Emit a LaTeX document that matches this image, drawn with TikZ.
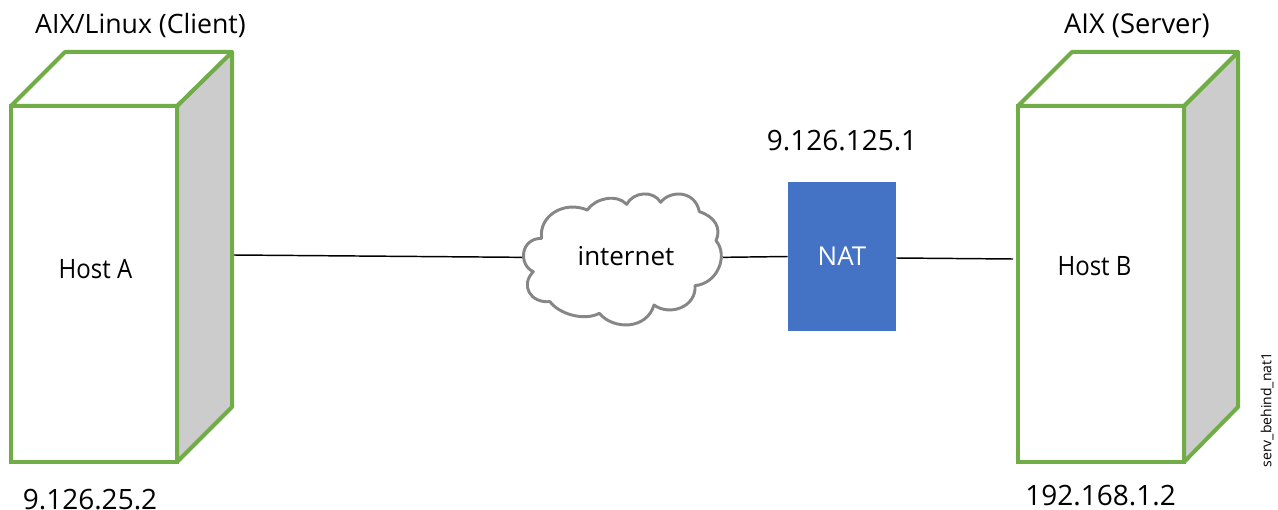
\documentclass[tikz,border=0pt]{standalone}
\usepackage{fontspec}
\setmainfont{Open Sans}
\usetikzlibrary{calc}
\definecolor{hostgreen}{HTML}{70AD47}
\definecolor{sidegray}{HTML}{CCCCCC}
\definecolor{natblue}{HTML}{4472C4}
\definecolor{cloudgray}{HTML}{868686}
\tikzset{
  px/.style={x=0.75pt,y=-0.75pt},
  hostface/.style={draw=hostgreen,line width=3pt,line join=round},
  hostfront/.style={hostface,line join=miter,fill=white,rectangle,inner sep=0pt,minimum width=124.5pt,minimum height=267pt},
  hostside/.style={hostface,fill=sidegray},
  label/.style={inner sep=0pt,font=\fontsize{#1}{24pt}\selectfont,text=black},
  label/.default={20pt},
  hostlabel/.style={inner sep=0pt,font=\fontsize{20pt}{24pt}\selectfont,text=black,xscale=0.9,transform shape},
  link/.style={draw=black,line width=1.1pt},
}
\begin{document}
\begin{tikzpicture}[px]
\useasboundingbox (0,0) rectangle (1278,510);
% Host A
\draw[hostside] (177,106) -- (232,52) -- (232,407) -- (177,462) -- cycle;
\draw[hostface,fill=white] (11,106) -- (65,52) -- (232,52) -- (177,106) -- cycle;
\node[hostfront] (hosta) at (94,284) {};
\node[hostlabel] (hostalabel) at (95.5,269) {Host A};
\coordinate (hostaport) at (234,255);
% Host B
\draw[hostside] (1184,106) -- (1238,52) -- (1238,407) -- (1184,462) -- cycle;
\draw[hostface,fill=white] (1018,106) -- (1072,52) -- (1238,52) -- (1184,106) -- cycle;
\node[hostfront] (hostb) at (1101,284) {};
\node[hostlabel] (hostblabel) at (1094.5,266) {Host B};
\coordinate (hostbport) at (1013,259);
% Cloud
\begin{scope}[shift={(500,170)},x=0.25pt,y=-0.25pt]
\draw[cloudgray,line width=2.2pt,fill=white,line join=round]
  (125,205) .. controls (115,140) and (190,90) .. (262,120)
  .. controls (285,85) and (350,70) .. (380,103)
  .. controls (400,65) and (460,60) .. (482,97)
  .. controls (510,60) and (585,60) .. (598,125)
  .. controls (645,140) and (665,175) .. (648,212)
  .. controls (685,255) and (655,340) .. (585,347)
  .. controls (590,410) and (510,440) .. (462,405)
  .. controls (440,480) and (340,480) .. (298,430)
  .. controls (250,455) and (175,430) .. (150,395)
  .. controls (90,400) and (60,345) .. (100,305)
  .. controls (55,285) and (60,205) .. (125,205) -- cycle;
\coordinate (cloudw) at (66,262);
\coordinate (cloude) at (669,262);
\end{scope}
\node[label=19.5pt] (internet) at (626,256) {internet};
% NAT
\node[rectangle,fill=natblue,inner sep=0pt,minimum width=81pt,minimum height=112pt,text=white,font=\fontsize{19.5pt}{24pt}\selectfont] (nat) at (842,256.5) {NAT};
% Connectors
\draw[link] (hostaport) -- (cloudw);
\draw[link] (cloude) -- (nat.west);
\draw[link] ($(nat.east)+(0,1.5)$) -- (hostbport);
% Labels
\node[label=20pt] (clientlabel) at (140.5,25) {AIX/Linux (Client)};
\node[label=20.5pt] (serverlabel) at (1137,26) {AIX (Server)};
\node[label=21pt] (natip) at (842,141) {9.126.125.1};
\node[label=21pt] (aip) at (90,499.5) {9.126.25.2};
\node[label=21pt] (bip) at (1100.5,496) {192.168.1.2};
\node[inner sep=0pt,rotate=90,font=\fontsize{10.5pt}{12pt}\selectfont] (tag) at (1267,410) {serv\_behind\_nat1};
\end{tikzpicture}
\end{document}
